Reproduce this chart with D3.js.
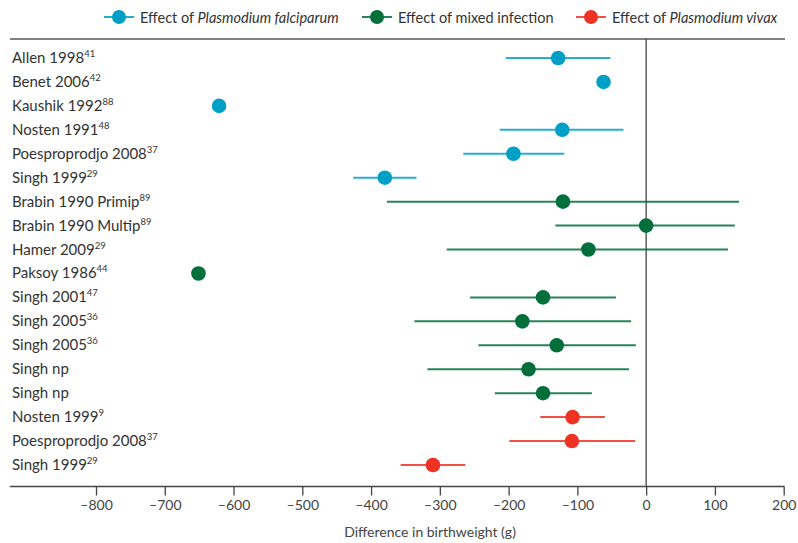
<!DOCTYPE html>
<html>
<head>
<meta charset="utf-8">
<script src="https://cdn.jsdelivr.net/npm/d3@7"></script>
<style>
  body { margin: 0; background: #fff; }
  svg { font-family: Lato, 'Open Sans', sans-serif; }
</style>
</head>
<body>
<div id="chart"></div>
<script>
// study labels, reference numbers and group of each row
const studies = ['Allen 1998', 'Benet 2006', 'Kaushik 1992', 'Nosten 1991', 'Poesproprodjo 2008', 'Singh 1999',
  'Brabin 1990 Primip', 'Brabin 1990 Multip', 'Hamer 2009', 'Paksoy 1986', 'Singh 2001', 'Singh 2005',
  'Singh 2005', 'Singh np', 'Singh np', 'Nosten 1999', 'Poesproprodjo 2008', 'Singh 1999'];
const refs = ['41', '42', '88', '48', '37', '29', '89', '89', '29', '44', '47', '36', '36', '', '', '9', '37', '29'];
const groups = ['pf', 'pf', 'pf', 'pf', 'pf', 'pf', 'mixed', 'mixed', 'mixed', 'mixed', 'mixed', 'mixed',
  'mixed', 'mixed', 'mixed', 'pv', 'pv', 'pv'];

// effect estimates and CI (g); null = no interval drawn
const estimate = [-128, -62, -621, -122, -193, -380, -121, 0, -84, -651, -150, -180, -130, -171, -150, -107, -108, -310];
const lower = [-204, null, null, -213, -266, -426, -377, -132, -290, null, -256, -337, -244, -318, -220, -154, -199, -357];
const upper = [-52, null, null, -33, -119, -334, 135, 129, 119, null, -44, -22, -15, -25, -79, -60, -16, -263];

const xTicks = [-800, -700, -600, -500, -400, -300, -200, -100, 0, 100, 200];

const legendKeys = ['pf', 'mixed', 'pv'];
const legendPre = ['Effect of ', 'Effect of mixed infection', 'Effect of '];
const legendItalic = ['Plasmodium falciparum', '', 'Plasmodium vivax'];

const colors = { pf: '#00a0c6', mixed: '#006f3c', pv: '#ee3224' };

const W = 798, H = 543;
const svg = d3.select('#chart').append('svg').attr('width', W).attr('height', H);

const rows = studies.map((s, i) => ({ i, name: s, ref: refs[i], g: groups[i], est: estimate[i], lo: lower[i], hi: upper[i] }));

const x = d3.scaleLinear().domain([-800, 200]).range([96, 783.7]);
const y = d3.scalePoint().domain(d3.range(studies.length)).range([58, 465]);

const axisY = 486.5, topY = 39, left = 10;

// frame lines
svg.append('line').attr('x1', left).attr('x2', 785).attr('y1', topY).attr('y2', topY)
  .attr('stroke', '#555').attr('stroke-width', 1.5);
svg.append('line').attr('x1', x(0)).attr('x2', x(0)).attr('y1', topY).attr('y2', axisY)
  .attr('stroke', '#444').attr('stroke-width', 1.3);

// x axis
const ax = svg.append('g').attr('transform', `translate(0,${axisY})`)
  .call(d3.axisBottom(x).tickValues(xTicks).tickSize(9).tickPadding(5).tickFormat((d) => d < 0 ? '\u2013' + Math.abs(d) : d));
ax.select('.domain').remove();
ax.selectAll('line').attr('stroke', '#444').attr('stroke-width', 1.3);
ax.selectAll('text').attr('font-size', 14).attr('fill', '#444').attr('font-family', 'Lato, sans-serif');
svg.append('line').attr('x1', left).attr('x2', 784.4).attr('y1', axisY).attr('y2', axisY)
  .attr('stroke', '#444').attr('stroke-width', 1.5);

svg.append('text').attr('x', 430).attr('y', 537).attr('text-anchor', 'middle')
  .attr('font-size', 14).attr('fill', '#444').text('Difference in birthweight (g)');

// row labels
const lab = svg.append('g').selectAll('text').data(rows).enter().append('text')
  .attr('x', 12).attr('y', (d) => y(d.i) + 5)
  .attr('font-size', 15).attr('fill', '#333');
lab.append('tspan').text((d) => d.name);
lab.append('tspan').attr('font-size', 9.5).attr('dy', -6).text((d) => d.ref);

// CIs and points
const marks = svg.append('g').selectAll('g').data(rows).enter().append('g');
marks.filter((d) => d.lo !== null).append('line')
  .attr('x1', (d) => x(d.lo)).attr('x2', (d) => x(d.hi))
  .attr('y1', (d) => y(d.i)).attr('y2', (d) => y(d.i))
  .attr('stroke', (d) => colors[d.g]).attr('stroke-opacity', 0.85).attr('stroke-width', 2);
marks.append('circle')
  .attr('cx', (d) => x(d.est)).attr('cy', (d) => y(d.i)).attr('r', 7.3)
  .attr('fill', (d) => colors[d.g]);

// legend
const legendX = [104, 362, 576];
const lg = svg.append('g').selectAll('g').data(legendKeys).enter().append('g')
  .attr('transform', (d, i) => `translate(${legendX[i]},17)`);
lg.append('line').attr('x1', 0).attr('x2', 30).attr('stroke', (d) => colors[d]).attr('stroke-width', 2).attr('stroke-opacity', 0.85);
lg.append('circle').attr('cx', 15).attr('r', 7).attr('fill', (d) => colors[d]);
const lt = lg.append('text').attr('x', 36).attr('y', 5.5).attr('font-size', 14.5).attr('fill', '#333');
lt.append('tspan').text((d, i) => legendPre[i]);
lt.append('tspan').attr('font-style', 'italic').text((d, i) => legendItalic[i]);
</script>
</body>
</html>
